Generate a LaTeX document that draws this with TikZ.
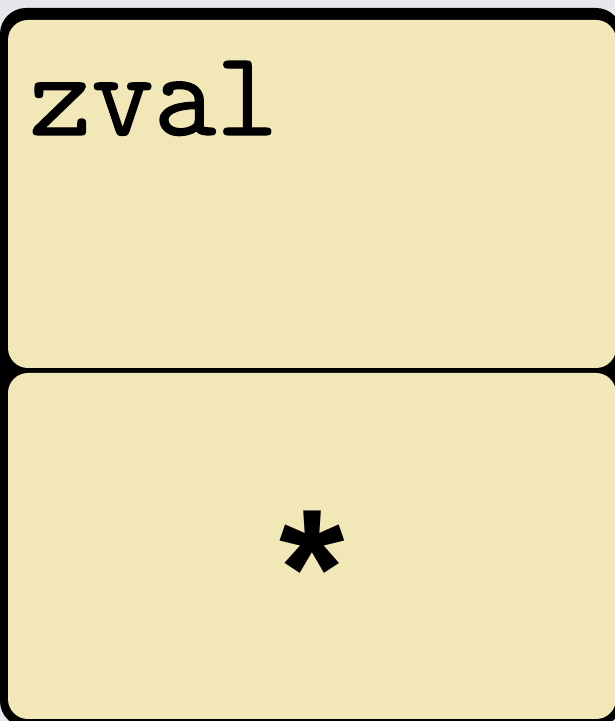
\documentclass[tikz,border=0pt]{standalone}
\usepackage{fontspec}
\newfontfamily\sansfont{Liberation Sans}
\newfontfamily\courfont[FakeBold=1]{Latin Modern Mono}
\definecolor{cream}{HTML}{F2E8B7}
\definecolor{bggray}{HTML}{E7E7EB}
\begin{document}
\begin{tikzpicture}[x=1pt,y=1pt,
  panel/.style={fill=cream,rounded corners=20pt}]
\useasboundingbox (0,0) rectangle (615,721);
\fill[bggray] (0,0) rectangle (615,721);
% outer black frame
\fill[black,rounded corners=26pt] (0,-6) rectangle (622,713);
% top and bottom panels
\fill[panel] (8,353) rectangle (616,701);
\fill[panel] (8,2) rectangle (616,348);
\node[anchor=base west,inner sep=0pt,font=\courfont\fontsize{121}{121}\selectfont] (zval) at (29,586) {zval};
\node[anchor=base,inner sep=0pt,font=\sansfont\bfseries\fontsize{168}{168}\selectfont] (star) at (312,94) {*};
\end{tikzpicture}
\end{document}
